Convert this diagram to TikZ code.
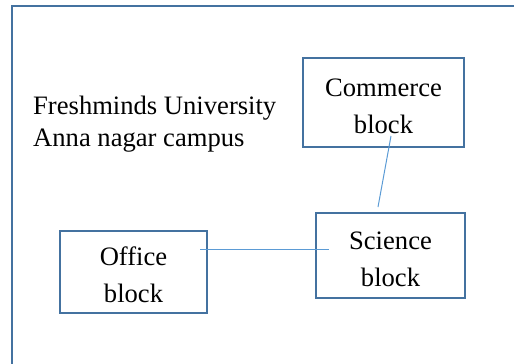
\documentclass[tikz,border=0pt]{standalone}
\usepackage{fontspec}
\setmainfont{Liberation Serif}
\usetikzlibrary{calc}
\definecolor{boxblue}{RGB}{68,114,160}
\definecolor{linkblue}{RGB}{91,155,213}
\newcommand{\toppush}{\rule{0pt}{25pt}}
\begin{document}
\begin{tikzpicture}[x=1pt,y=-1pt,
  blockbox/.style={draw=boxblue, line width=2pt, fill=white, align=center, inner sep=0pt,
    font=\fontsize{26.6}{37}\selectfont},
  link/.style={draw=linkblue, line width=1pt}]
\useasboundingbox (0,0) rectangle (514,364);
\begin{scope}
\clip (0,0) rectangle (514,364);
\draw[boxblue, line width=2pt] (12,6) rectangle (540,400);
\end{scope}
\node[anchor=base west, inner sep=0pt, align=left, font=\fontsize{26.6}{32}\selectfont] (title) at (33,146) {Freshminds University\\Anna nagar campus};
\node[blockbox, minimum width=161pt, minimum height=89pt] (com) at (383.5,102.5) {\toppush Commerce\\block};
\node[blockbox, minimum width=149pt, minimum height=85pt] (sci) at (390.5,255.5) {\toppush Science\\block};
\node[blockbox, minimum width=147pt, minimum height=82pt] (off) at (133.5,272) {\toppush Office\\block};
\coordinate (c1) at ($(com.south)+(7.5,-12)$);
\coordinate (s1) at ($(sci.north)+(-12.5,-5)$);
\draw[link] (c1) -- (s1);
\coordinate (o1) at ($(off.east)+(-8,-23)$);
\coordinate (s2) at ($(sci.west)+(14,-6.5)$);
\draw[link] (o1) -- (s2);
\end{tikzpicture}
\end{document}
